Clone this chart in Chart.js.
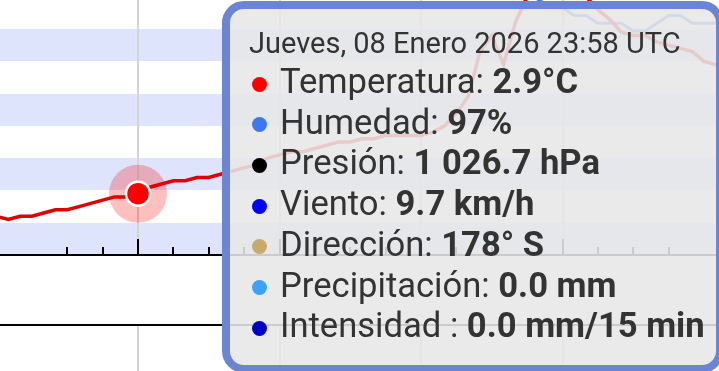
<!DOCTYPE html>
<html>
<head>
<meta charset="utf-8">
<script src="https://cdn.jsdelivr.net/npm/chart.js@4.4.1/dist/chart.umd.min.js"></script>
<style>
  html, body { margin: 0; padding: 0; background: #fff; }
  #wrap { position: relative; width: 719px; height: 371px; overflow: hidden; font-family: Roboto, sans-serif; }
  #upper { position: absolute; left: 0; top: 0; }
  #lower { position: absolute; left: 0; top: 320px; }
  #tip {
    display: none; position: absolute; box-sizing: border-box; top: 1px;
    width: 502px; height: 372px; border: 8px solid #6b84d4; border-radius: 22px;
    background: rgba(231, 231, 231, 0.88); color: #333;
    padding: 16px 0 0 19px; white-space: nowrap;
  }
  #tip .title { font-size: 29px; line-height: 36px; }
  #tip .row { font-size: 34.6px; line-height: 40.7px; padding-left: 3px; }
  #tip .dot { display: inline-block; width: 15px; height: 15px; border-radius: 50%; margin-right: 13px; vertical-align: 1.5px; }
  #tip b { font-weight: 700; }
</style>
</head>
<body>
<div id="wrap">
  <canvas id="upper" width="719" height="260"></canvas>
  <canvas id="lower" width="719" height="100"></canvas>
  <div id="tip"></div>
</div>
<script>
// readings every 5 minutes, Thursday 22:58 -> Friday 04:08
const times = [
  '22:58', '23:03', '23:08', '23:13', '23:18', '23:23', '23:28', '23:33', '23:38', '23:43', '23:48', '23:53', '23:58',
  '00:03', '00:08', '00:13', '00:18', '00:23', '00:28', '00:33', '00:38', '00:43', '00:48', '00:53', '00:58',
  '01:03', '01:08', '01:13', '01:18', '01:23', '01:28', '01:33', '01:38', '01:43', '01:48', '01:53', '01:58',
  '02:03', '02:08', '02:13', '02:18', '02:23', '02:28', '02:33', '02:38', '02:43', '02:48', '02:53', '02:58',
  '03:03', '03:08', '03:13', '03:18', '03:23', '03:28', '03:33', '03:38', '03:43', '03:48', '03:53', '03:58',
  '04:03', '04:08'
];
const temperature = [
  2.2, 2.1, 2.2, 2.2, 2.3, 2.4, 2.4, 2.5, 2.6, 2.7, 2.8, 2.8, 2.9,
  3.1, 3.2, 3.3, 3.3, 3.4, 3.4, 3.5, 3.6, 3.7, 3.8, 4.0, 4.1,
  4.2, 4.2, 4.3, 4.4, 4.5, 4.5, 4.6, 4.6, 4.7, 4.7, 4.7, 4.7,
  4.8, 5.0, 5.4, 5.9, 7.3, 7.8, 6.9, 8.2, 9.0, 9.2, 9.4, 9.4,
  9.3, 9.0, 8.6, 8.3, 7.9, 7.8, 7.8, 7.6, 7.5, 7.4, 7.3, 7.0,
  6.9, 6.7
];
const humidity = [
  97, 97, 97, 97, 97, 97, 97, 97, 97, 97, 97, 97, 97,
  97, 97, 97, 97, 97, 97, 97, 97, 97, 97, 97, 97,
  97, 97, 97, 97, 97, 97, 97, 97, 97, 97, 97, 97,
  97, 97, 97, 97, 96, 96, 95, 94, 94, 93, 92, 92,
  91, 91, 90, 90, 90, 89, 89, 90, 91, 91, 90, 90,
  90, 89
];

// the hovered reading
const hoverIndex = 12;
const dayLabel = 'Jueves, 08 Enero 2026';
const pressure = 1026.7;
const wind = 9.7;
const direction = 178;
const directionName = 'S';
const precipitation = 0.0;
const intensity = 0.0;

const tipLabels = ['Temperatura: ', 'Humedad: ', 'Presión: ', 'Viento: ', 'Dirección: ', 'Precipitación: ', 'Intensidad : '];
const tipColors = ['#ff0000', '#3d78f0', '#000000', '#0000ff', '#c8aa6e', '#3ca2f6', '#0000c8'];

const minutes = [];
times.forEach(t => {
  const [h, m] = t.split(':').map(Number);
  let v = h * 60 + m;
  while (minutes.length && v < minutes[minutes.length - 1]) v += 1440;
  minutes.push(v);
});
const elapsed = minutes.map(v => v - minutes[0]);

const xMin = 1.48, xMax = 306.36;
const isStep = (v, s) => Math.abs(v / s - Math.round(v / s)) < 1e-6;
const gridColor = ctx => isStep(ctx.tick.value, 60) ? '#d4d4d4' : 'rgba(0,0,0,0)';

const bands = {
  id: 'bands',
  beforeDraw(chart, args, opts) {
    const {ctx, chartArea} = chart;
    const scale = chart.scales.y;
    const step = scale.options.ticks.stepSize;
    const ticks = scale.ticks;
    ctx.save();
    ctx.fillStyle = opts.color;
    for (let i = 0; i < ticks.length - 1; i++) {
      const lo = ticks[i].value, hi = ticks[i + 1].value;
      if (Math.floor(lo / step + 1e-9) % 2 !== 1) continue;
      const y1 = Math.round(scale.getPixelForValue(hi));
      const y2 = Math.round(scale.getPixelForValue(lo));
      ctx.fillRect(chartArea.left, y1, chartArea.width, y2 - y1);
    }
    ctx.restore();
  }
};

const tickMarks = {
  id: 'tickMarks',
  beforeDatasetsDraw(chart) {
    const {ctx, chartArea} = chart;
    const scale = chart.scales.x;
    ctx.save();
    ctx.strokeStyle = '#000';
    ctx.lineWidth = 2;
    scale.ticks.forEach(t => {
      if (!isStep(t.value, 15)) return;
      const x = Math.round(scale.getPixelForValue(t.value));
      const len = isStep(t.value, 60) ? 16 : 8;
      ctx.beginPath();
      ctx.moveTo(x, chartArea.bottom);
      ctx.lineTo(x, chartArea.bottom - len);
      ctx.stroke();
    });
    ctx.restore();
  }
};

const halo = {
  id: 'halo',
  beforeDatasetsDraw(chart) {
    const {ctx} = chart;
    chart.getActiveElements().forEach(a => {
      ctx.save();
      ctx.fillStyle = 'rgba(255, 0, 0, 0.25)';
      ctx.beginPath();
      ctx.arc(a.element.x, a.element.y, 29, 0, Math.PI * 2);
      ctx.fill();
      ctx.restore();
    });
  }
};

function renderTip(context) {
  const tip = context.tooltip;
  const box = document.getElementById('tip');
  if (!tip.dataPoints || !tip.dataPoints.length) { box.style.display = 'none'; return; }
  const i = tip.dataPoints[0].dataIndex;
  const p = Math.floor(pressure / 1000) + ' ' + (pressure % 1000).toFixed(1).padStart(5, '0');
  const values = [
    temperature[i].toFixed(1) + '°C',
    humidity[i] + '%',
    p + ' hPa',
    wind.toFixed(1) + ' km/h',
    direction + '° ' + directionName,
    precipitation.toFixed(1) + ' mm',
    intensity.toFixed(1) + ' mm/15 min'
  ];
  let html = '<div class="title">' + dayLabel + ' ' + times[i] + ' UTC</div>';
  tipLabels.forEach((lab, k) => {
    html += '<div class="row"><span class="dot" style="background:' + tipColors[k] + '"></span>' +
      lab + '<b>' + values[k] + '</b></div>';
  });
  box.innerHTML = html;
  box.style.left = (context.chart.canvas.offsetLeft + tip.dataPoints[0].element.x + 84) + 'px';
  box.style.display = 'block';
}

Chart.defaults.font.family = 'Roboto';

const upper = new Chart(document.getElementById('upper'), {
  type: 'line',
  data: {
    datasets: [{
      label: 'Temperatura',
      data: elapsed.map((x, k) => ({x: x, y: temperature[k]})),
      borderColor: '#e00000',
      borderWidth: 3.5,
      tension: 0,
      pointRadius: 0,
      pointHoverRadius: 12,
      pointHoverBorderWidth: 2.5,
      pointHoverBorderColor: '#ffffff',
      pointHoverBackgroundColor: '#ff0000',
      yAxisID: 'y'
    }, {
      label: 'Humedad',
      data: elapsed.map((x, k) => ({x: x, y: humidity[k]})),
      borderColor: '#3d78f0',
      borderWidth: 3,
      tension: 0,
      pointRadius: 0,
      pointHoverRadius: 0,
      yAxisID: 'y2'
    }]
  },
  options: {
    responsive: false,
    animation: false,
    events: [],
    layout: {padding: {bottom: 5}, autoPadding: false},
    scales: {
      x: {
        type: 'linear', min: xMin, max: xMax,
        ticks: {stepSize: 15, display: false, autoSkip: false},
        grid: {color: gridColor, lineWidth: 2, drawTicks: false},
        border: {color: '#000', width: 2}
      },
      y: {min: 1, max: 8.9, display: false, ticks: {stepSize: 1}},
      y2: {min: 60, max: 93, display: false}
    },
    plugins: {
      legend: {display: false},
      bands: {color: '#dde4fb'},
      tooltip: {enabled: false, external: renderTip}
    }
  },
  plugins: [bands, tickMarks, halo]
});

new Chart(document.getElementById('lower'), {
  type: 'line',
  data: {datasets: []},
  options: {
    responsive: false,
    animation: false,
    events: [],
    layout: {padding: {top: 5}, autoPadding: false},
    scales: {
      x: {
        type: 'linear', position: 'top', min: xMin, max: xMax,
        ticks: {stepSize: 15, display: false, autoSkip: false},
        grid: {color: gridColor, lineWidth: 2, drawTicks: false},
        border: {color: '#000', width: 2}
      },
      y: {min: 7.9, max: 30, display: false, ticks: {stepSize: 10}}
    },
    plugins: {
      legend: {display: false},
      bands: {color: '#dde4fb'},
      tooltip: {enabled: false}
    }
  },
  plugins: [bands]
});

const active = [{datasetIndex: 0, index: hoverIndex}];
upper.setActiveElements(active);
upper.tooltip.setActiveElements(active, {x: 0, y: 0});
upper.update();
</script>
</body>
</html>
